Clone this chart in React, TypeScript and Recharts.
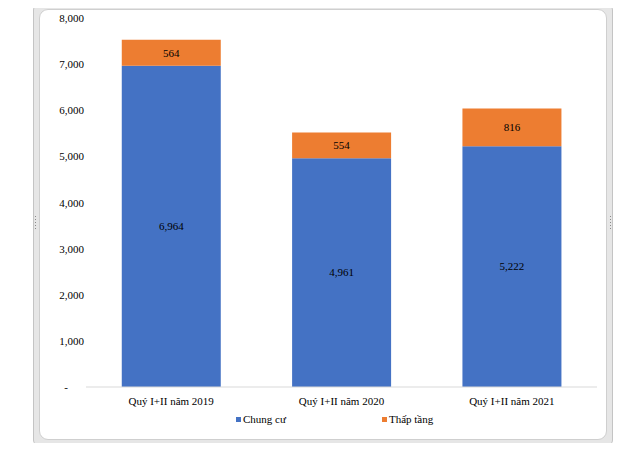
import React from 'react';
import { BarChart, Bar, XAxis, YAxis, Legend, LabelList } from 'recharts';

const categories = ['Quý I+II năm 2019', 'Quý I+II năm 2020', 'Quý I+II năm 2021'];
const chungCu = [6964, 4961, 5222];
const thapTang = [564, 554, 816];
const yTicks = [0, 1000, 2000, 3000, 4000, 5000, 6000, 7000, 8000];

const data = categories.map((name, i) => ({
  name,
  chungCu: chungCu[i],
  thapTang: thapTang[i],
}));

const FONT = '"Liberation Serif", "Times New Roman", serif';
const BLUE = '#4472C4';
const ORANGE = '#ED7D31';

const fmt = (v: number) => v.toLocaleString('en-US');

const YTick = (props: any) => {
  const { x, y, payload } = props;
  const v = payload.value as number;
  return (
    <text
      x={v === 0 ? x - 16 : x}
      y={y}
      dy={4}
      textAnchor="end"
      fontSize={11}
      fontFamily={FONT}
      fill="#000"
    >
      {v === 0 ? '-' : fmt(v)}
    </text>
  );
};

const LegendContent = () => (
  <div style={{ display: 'flex', fontFamily: FONT, fontSize: 11, color: '#000', gap: 96 }}>
    {[
      { label: 'Chung cư', color: BLUE },
      { label: 'Thấp tầng', color: ORANGE },
    ].map((it) => (
      <div key={it.label} style={{ display: 'flex', alignItems: 'center' }}>
        <span style={{ width: 5, height: 5, background: it.color, marginRight: 2, display: 'inline-block' }} />
        <span>{it.label}</span>
      </div>
    ))}
  </div>
);

const Dots = ({ style, vertical }: { style: React.CSSProperties; vertical?: boolean }) => (
  <div
    style={{
      position: 'absolute',
      width: vertical ? 1 : 14,
      height: vertical ? 14 : 1,
      backgroundImage: vertical
        ? 'repeating-linear-gradient(to bottom, #8a8a8a 0 1px, transparent 1px 3px)'
        : 'repeating-linear-gradient(to right, #8a8a8a 0 1px, transparent 1px 3px)',
      ...style,
    }}
  />
);

export default function App() {
  return (
    <div style={{ position: 'relative', width: 639, height: 451, background: '#fff', overflow: 'hidden', margin: -8 }}>
      <div style={{ position: 'absolute', left: 0, top: 0, width: 639, height: 1, background: '#9a9a9a' }} />
      <div style={{ position: 'absolute', left: 0, top: 1, width: 639, height: 2, background: '#dedede' }} />
      <div
        style={{
          position: 'absolute',
          left: 33,
          top: 4,
          width: 580,
          height: 442,
          boxSizing: 'border-box',
          border: '1px solid #c4c4c4',
          borderRadius: 6,
          background: '#e6e6e6',
        }}
      />
      <div
        style={{
          position: 'absolute',
          left: 39,
          top: 9,
          width: 568,
          height: 431,
          boxSizing: 'border-box',
          border: '1px solid #cfcfcf',
          borderRadius: 9,
          background: '#fff',
        }}
      />
      <Dots style={{ left: 318, top: 5 }} />
      <Dots style={{ left: 318, top: 443 }} />
      <Dots vertical style={{ left: 35, top: 216 }} />
      <Dots vertical style={{ left: 610, top: 216 }} />
      <div style={{ position: 'absolute', left: 0, top: 0 }}>
        <BarChart
          width={639}
          height={451}
          data={data}
          margin={{ top: 18, right: 42, bottom: 22, left: 40 }}
          barCategoryGap="21%"
        >
          <XAxis
            dataKey="name"
            axisLine={{ stroke: '#d9d9d9' }}
            tickLine={false}
            tickMargin={4}
            height={30}
            tick={{ fontSize: 11, fontFamily: FONT, fill: '#000' }}
          />
          <YAxis
            width={46}
            domain={[0, 8000]}
            ticks={yTicks}
            axisLine={false}
            tickLine={false}
            tickSize={0}
            tickMargin={2}
            tick={<YTick />}
            interval={0}
          />
          <Legend
            content={<LegendContent />}
            wrapperStyle={{ left: 236, top: 413, width: 'auto' }}
          />
          <Bar dataKey="chungCu" stackId="a" fill={BLUE} isAnimationActive={false}>
            <LabelList
              dataKey="chungCu"
              position="center"
              formatter={(v: any) => fmt(Number(v))}
              style={{ fontSize: 11, fontFamily: FONT, fill: '#000' }}
            />
          </Bar>
          <Bar dataKey="thapTang" stackId="a" fill={ORANGE} isAnimationActive={false}>
            <LabelList
              dataKey="thapTang"
              position="center"
              formatter={(v: any) => fmt(Number(v))}
              style={{ fontSize: 11, fontFamily: FONT, fill: '#000' }}
            />
          </Bar>
        </BarChart>
      </div>
    </div>
  );
}
